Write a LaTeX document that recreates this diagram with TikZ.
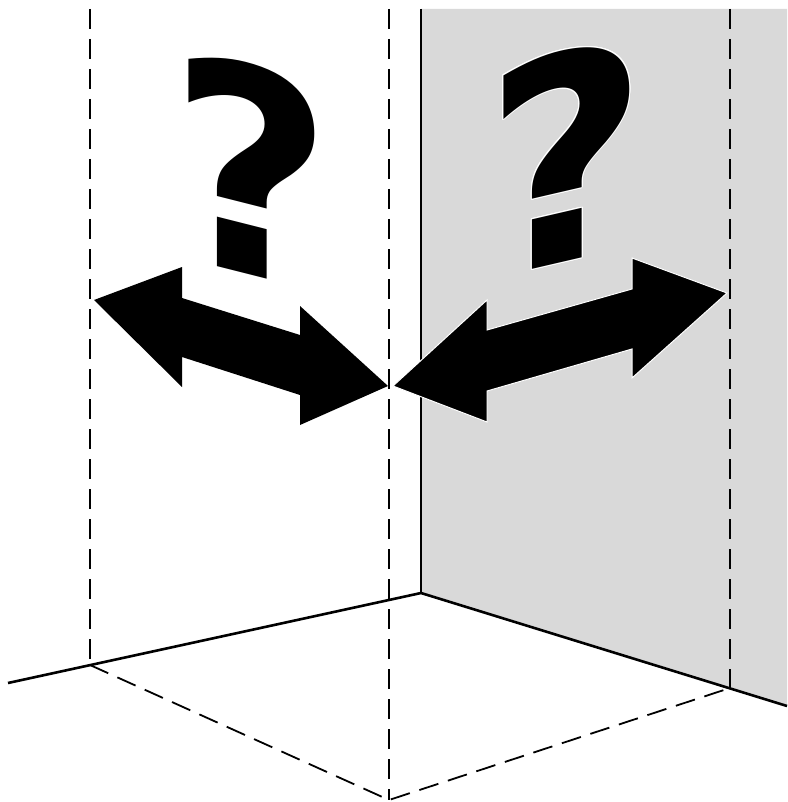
\documentclass[tikz,border=0pt]{standalone}
\usepackage{fontspec}
\usepackage{contour}
\newfontfamily\qfont{DejaVu Sans}
\definecolor{wallgray}{RGB}{217,217,217}
\contourlength{1.2pt}
\tikzset{
  solidline/.style={line width=2.6pt, line cap=butt},
  dashline/.style={line width=1.8pt, dash pattern=on 20pt off 10pt},
  qmark/.style={inner sep=0pt, xscale=0.94, yscale=0.95,
    font=\qfont\bfseries\fontsize{300}{300}\selectfont},
  bigarrow/.style={fill=black},
  whitearrow/.style={fill=black, draw=white, line width=1pt, line join=miter}
}
\begin{document}
\begin{tikzpicture}[x=1pt,y=-1pt]
\useasboundingbox (0,0) rectangle (787,802);
% coordinates
\coordinate (wt) at (421,9);
\coordinate (wc) at (421,593);
\coordinate (fl) at (8,683);
\coordinate (fr) at (787,706);
\coordinate (gtr) at (787,9);
\coordinate (la) at (90,665);
\coordinate (lt) at (90,9);
\coordinate (ma) at (389,800);
\coordinate (mt) at (389,9);
\coordinate (ra) at (730,688);
\coordinate (rt) at (730,9);
% gray wall
\fill[wallgray] (wt) -- (gtr) -- (fr) -- (wc) -- cycle;
% solid lines
\draw[solidline] (wt) -- (wc);
\draw[solidline] (fl) -- (wc) -- (fr);
% dashed lines
\draw[dashline] (lt) -- (la);
\draw[dashline] (mt) -- (ma);
\draw[dashline] (rt) -- (ra);
\draw[dashline] (la) -- (ma) -- (ra);
% question marks
\node[qmark, yslant=-0.25] (q1) at (251,169) {?};
\node[qmark, yslant=0.23] (q2) at (566,156) {\contour{white}{?}};
% left double arrow
\fill[bigarrow] (94,300) -- (182,267) -- (182,298) -- (300,335) -- (300,306)
  -- (388,386) -- (300,425) -- (300,395) -- (182,357) -- (182,387) -- cycle;
% right double arrow
\filldraw[whitearrow] (393,386) -- (487,300) -- (487,330) -- (632,289) -- (632,258)
  -- (727,293) -- (632,378) -- (632,349) -- (487,391) -- (487,422) -- cycle;
\end{tikzpicture}
\end{document}
